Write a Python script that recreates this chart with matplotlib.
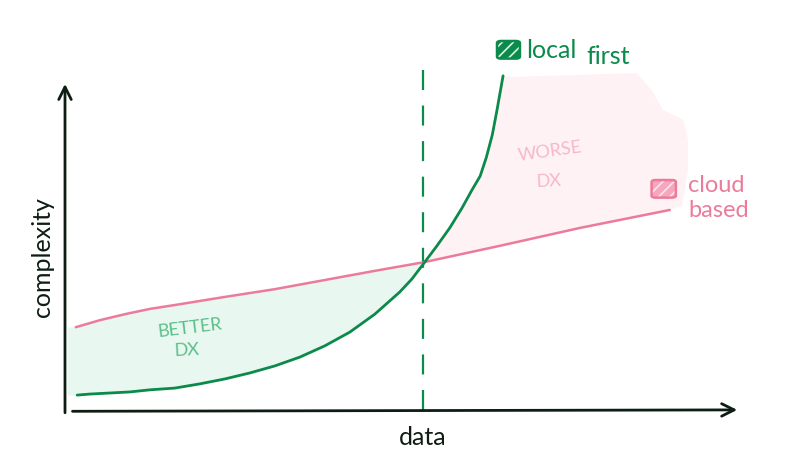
import matplotlib
matplotlib.use("Agg")
import matplotlib.pyplot as plt
from matplotlib.patches import FancyBboxPatch, Polygon
import numpy as np

# ---- data (conceptual units: data 0..100, complexity 0..100) ----
cloud_x = [1.6, 5.2, 8.9, 12.6, 16.3, 23.7, 31.1, 38.5, 45.9, 53.3, 64.4, 76.3, 89.6]
cloud_y = [24.1, 26.1, 27.8, 29.3, 30.4, 32.7, 34.9, 37.5, 40.1, 42.6, 47.2, 52.3, 57.4]

local_x = [1.8, 3.7, 6.7, 9.6, 12.6, 16.3, 20.0, 23.7, 27.4, 31.1, 34.8, 38.5,
           42.2, 45.9, 49.6, 51.4, 53.3, 55.1, 57.0, 58.8, 60.3, 61.5, 62.4,
           63.3, 64.0, 64.9]
local_y = [4.8, 5.1, 5.4, 5.7, 6.3, 6.8, 8.0, 9.4, 11.1, 13.1, 15.6, 18.8,
           22.7, 27.8, 34.1, 37.8, 42.6, 47.2, 52.3, 57.9, 63.1, 67.0, 72.2,
           78.7, 85.8, 95.5]

crossover_x = 53.0
# outline of the "worse DX" shaded zone beyond the top of the local-first curve
worse_edge_x = [65.8, 84.7, 87.1, 88.6, 91.6, 92.3, 92.3, 91.4]
worse_edge_y = [95.2, 96.3, 90.9, 85.8, 83.0, 77.3, 68.8, 58.5]

x_label = "data"
y_label = "complexity"
legend_local = ["local", "first"]
legend_cloud = ["cloud", "based"]
better_text = ["BETTER", "DX"]
worse_text = ["WORSE", "DX"]

# ---- style ----
GREEN = "#0b8a4b"
GREEN_FILL = "#e8f7ef"
GREEN_TEXT = "#5dbf8a"
PINK = "#ec7b9b"
PINK_FILL = "#fff2f4"
PINK_TEXT = "#f6b8c8"
INK = "#0e1d13"
FONT = "Lato"

fig = plt.figure(figsize=(8, 4.76), dpi=100)
ax = fig.add_axes([65 / 800, (476 - 412) / 476, 675 / 800, 352 / 476])
ax.set_xlim(0, 100)
ax.set_ylim(0, 100)
ax.axis("off")

# green fill (better DX) between pink line and green curve left of crossover
xs = np.array(local_x)
ys = np.array(local_y)
cx = np.array(cloud_x)
cy = np.array(cloud_y)
left_mask = xs <= 53.3
lx = np.concatenate([[0.3], xs[left_mask]])
ly = np.concatenate([[local_y[0]], ys[left_mask]])
pink_at = np.interp(lx, cx, cy)
pink_at[0] = cloud_y[0]
ax.fill_between(lx, ly, pink_at, color=GREEN_FILL, lw=0, zorder=1)

# pink fill (worse DX)
right_mask = xs >= 53.3
poly_pts = list(zip(xs[right_mask], ys[right_mask]))
poly_pts += list(zip(worse_edge_x, worse_edge_y))
back = [(x, y) for x, y in zip(cloud_x, cloud_y) if 53.3 <= x <= 91.4][::-1]
poly_pts += back
ax.add_patch(Polygon(poly_pts, closed=True, facecolor=PINK_FILL,
                     edgecolor="none", zorder=1))

# lines
ax.plot(cloud_x, cloud_y, color=PINK, lw=1.8, solid_capstyle="round",
        solid_joinstyle="round", zorder=3)
ax.plot(local_x, local_y, color=GREEN, lw=2.0, solid_capstyle="round",
        solid_joinstyle="round", zorder=4)

# dashed vertical crossover line
ax.plot([crossover_x, crossover_x], [0.5, 99.0], color=GREEN, lw=1.6,
        dashes=(9, 7), zorder=2, clip_on=False)

# axes arrows
arrow_style = "->,head_length=0.9,head_width=0.45"
ax.annotate("", xy=(0, 94.0), xytext=(0, -1.0),
            arrowprops=dict(arrowstyle=arrow_style, color=INK, lw=2.0),
            annotation_clip=False)
ax.annotate("", xy=(100, 0.6), xytext=(0.7, 0.2),
            arrowprops=dict(arrowstyle=arrow_style, color=INK, lw=2.0),
            annotation_clip=False)

# axis labels
ax.text(-3.3, 44.0, y_label, rotation=90, ha="center", va="center",
        fontsize=18, color=INK, family=FONT)
ax.text(53.0, -7.2, x_label, ha="center", va="center",
        fontsize=18, color=INK, family=FONT)

# region texts
ax.text(18.5, 23.8, better_text[0], ha="center", va="center", rotation=7,
        fontsize=13, color=GREEN_TEXT, family=FONT)
ax.text(18.1, 17.4, better_text[1], ha="center", va="center", rotation=3,
        fontsize=13, color=GREEN_TEXT, family=FONT)
ax.text(71.9, 74.0, worse_text[0], ha="center", va="center", rotation=8,
        fontsize=13, color=PINK_TEXT, family=FONT)
ax.text(71.6, 65.6, worse_text[1], ha="center", va="center", rotation=3,
        fontsize=13, color=PINK_TEXT, family=FONT)

# legend boxes (solid fill, white hatching, coloured outline)
def legend_box(x, y, w, h, face, edge, stripe):
    style = "round,pad=0.1,rounding_size=0.6"
    ax.add_patch(FancyBboxPatch((x, y), w, h, boxstyle=style, facecolor=face,
                                edgecolor="none", zorder=5, clip_on=False))
    ax.add_patch(FancyBboxPatch((x, y), w, h, boxstyle=style,
                                facecolor="none", edgecolor=stripe,
                                hatch="///", lw=0, zorder=6, clip_on=False))
    ax.add_patch(FancyBboxPatch((x, y), w, h, boxstyle=style,
                                facecolor="none", edgecolor=edge, lw=1.8,
                                zorder=7, clip_on=False))

plt.rcParams["hatch.linewidth"] = 1.2
legend_box(64.1, 100.5, 3.2, 4.8, GREEN, GREEN, "#d9f2e4")
ax.text(68.3, 102.8, legend_local[0], ha="left", va="center",
        fontsize=18, color=GREEN, family=FONT, clip_on=False)
ax.text(77.2, 100.9, legend_local[1], ha="left", va="center",
        fontsize=18, color=GREEN, family=FONT, clip_on=False)

legend_box(87.0, 61.0, 3.4, 4.8, "#f6a6bd", PINK, "#fde6ec")
ax.text(92.3, 64.3, legend_cloud[0], ha="left", va="center",
        fontsize=17, color=PINK, family=FONT, clip_on=False)
ax.text(92.3, 57.3, legend_cloud[1], ha="left", va="center",
        fontsize=17, color=PINK, family=FONT, clip_on=False)

fig.savefig("out.png", dpi=100, facecolor="white")
